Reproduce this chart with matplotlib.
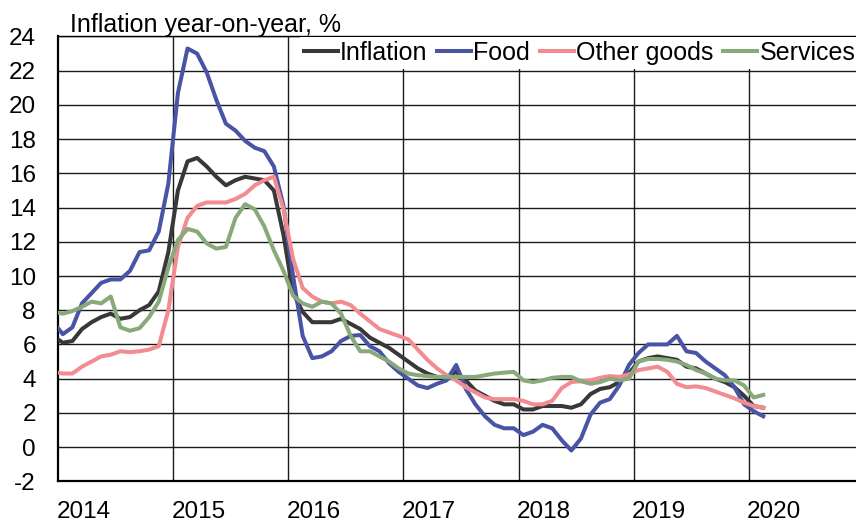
import matplotlib
matplotlib.use("Agg")
import matplotlib.pyplot as plt
import numpy as np

plt.rcParams['font.family'] = ['Liberation Sans', 'DejaVu Sans']

# Monthly data, Dec 2013 .. Feb 2020 (year-on-year, %)
start_year, start_month = 2013, 12
inflation = [6.5,
    6.1, 6.2, 6.9, 7.3, 7.6, 7.8, 7.5, 7.6, 8.0, 8.3, 9.1, 11.4,
    15.0, 16.7, 16.9, 16.4, 15.8, 15.3, 15.6, 15.8, 15.7, 15.6, 15.0, 12.4,
    9.0, 7.9, 7.3, 7.3, 7.3, 7.5, 7.2, 6.9, 6.4, 6.1, 5.8, 5.4,
    5.0, 4.6, 4.3, 4.1, 4.1, 4.4, 3.9, 3.3, 3.0, 2.7, 2.5, 2.5,
    2.2, 2.2, 2.4, 2.4, 2.4, 2.3, 2.5, 3.1, 3.4, 3.5, 3.8, 4.3,
    5.0, 5.2, 5.3, 5.2, 5.1, 4.7, 4.6, 4.3, 4.0, 3.8, 3.5, 3.0,
    2.4, 2.3]
food = [7.3,
    6.6, 7.0, 8.4, 9.0, 9.6, 9.8, 9.8, 10.3, 11.4, 11.5, 12.6, 15.4,
    20.7, 23.3, 23.0, 21.9, 20.3, 18.9, 18.5, 17.9, 17.5, 17.3, 16.4, 14.1,
    10.0, 6.5, 5.2, 5.3, 5.6, 6.2, 6.5, 6.55, 5.9, 5.6, 4.9, 4.4,
    4.0, 3.6, 3.45, 3.7, 3.9, 4.8, 3.4, 2.5, 1.8, 1.3, 1.1, 1.1,
    0.7, 0.9, 1.3, 1.1, 0.4, -0.2, 0.5, 1.9, 2.6, 2.8, 3.6, 4.8,
    5.5, 6.0, 6.0, 6.0, 6.5, 5.6, 5.5, 5.0, 4.6, 4.2, 3.5, 2.5,
    2.1, 1.8]
other_goods = [4.4,
    4.3, 4.3, 4.7, 5.0, 5.3, 5.4, 5.6, 5.55, 5.6, 5.7, 5.9, 8.0,
    11.7, 13.4, 14.1, 14.3, 14.3, 14.3, 14.5, 14.8, 15.3, 15.6, 15.8, 13.9,
    11.0, 9.3, 8.8, 8.5, 8.4, 8.5, 8.3, 7.8, 7.35, 6.9, 6.7, 6.5,
    6.3, 5.7, 5.1, 4.6, 4.2, 3.9, 3.5, 3.2, 2.9, 2.8, 2.8, 2.8,
    2.7, 2.5, 2.5, 2.7, 3.45, 3.8, 3.85, 3.9, 4.05, 4.15, 4.1, 4.25,
    4.5, 4.6, 4.7, 4.4, 3.7, 3.5, 3.55, 3.45, 3.25, 3.05, 2.85, 2.6,
    2.4, 2.3]
services = [7.9,
    7.8, 7.95, 8.2, 8.5, 8.4, 8.8, 7.0, 6.8, 6.95, 7.6, 8.5, 10.5,
    12.1, 12.75, 12.6, 11.9, 11.6, 11.7, 13.4, 14.2, 13.9, 12.9, 11.5, 10.3,
    8.85, 8.4, 8.2, 8.5, 8.4, 7.8, 6.5, 5.6, 5.6, 5.3, 5.0, 4.6,
    4.3, 4.2, 4.15, 4.1, 4.1, 4.1, 4.1, 4.1, 4.2, 4.3, 4.35, 4.4,
    3.9, 3.8, 3.9, 4.05, 4.1, 4.1, 3.85, 3.7, 3.8, 4.0, 3.9, 4.0,
    5.0, 5.15, 5.15, 5.1, 5.0, 4.8, 4.5, 4.3, 4.0, 3.9, 3.9, 3.6,
    2.9, 3.05]

series_names = ["Inflation", "Food", "Other goods", "Services"]
series_colors = ["#383838", "#4A54A6", "#F28C91", "#8AA97B"]
year_labels = ["2014", "2015", "2016", "2017", "2018", "2019", "2020"]
y_ticks = list(range(-2, 25, 2))
title = "Inflation year-on-year, %"

n = len(inflation)
t = np.array([start_year + (start_month - 1 + i + 0.5) / 12.0 for i in range(n)])

W, H = 856, 522
fig = plt.figure(figsize=(W / 100, H / 100), dpi=100)
ax = fig.add_axes([58 / W, (H - 481.3) / H, 806 / W, 444.8 / H])

lw = 2.9
for vals, name, col in zip([inflation, food, other_goods, services], series_names, series_colors):
    ax.plot(t, vals, color=col, lw=lw, label=name, solid_joinstyle='round', zorder=3)

ax.set_xlim(2014, 2021)
ax.set_ylim(-2, 24)

years = [int(y) for y in year_labels]
ax.set_xticks(years[1:])
ax.set_xticklabels([])
ax.set_xticks([y + 0.22 for y in years], minor=True)
ax.set_xticklabels(year_labels, minor=True)
ax.tick_params(axis='x', which='both', length=0)
ax.tick_params(axis='x', which='minor', labelsize=17.5, pad=14)

ax.set_yticks(y_ticks)
ax.set_yticklabels([str(v) for v in y_ticks])
ax.tick_params(axis='y', length=0, labelsize=17.5, pad=16)

ax.grid(True, which='major', color='#1a1a1a', lw=1.0, zorder=1)
ax.set_axisbelow(True)

ax.spines['right'].set_visible(False)
ax.spines['top'].set_linewidth(1.0)
ax.spines['left'].set_linewidth(1.6)
ax.spines['bottom'].set_linewidth(1.6)

fig.text(70 / W, 1 - 31.7 / H, title, fontsize=18, ha='left', va='baseline')

leg = fig.legend(loc='center left', bbox_to_anchor=(300 / W, 1 - 53 / H),
                 bbox_transform=fig.transFigure, ncol=4, frameon=True,
                 fontsize=18, handlelength=1.36, handletextpad=0.08,
                 columnspacing=0.4, borderpad=0.15, borderaxespad=0,
                 fancybox=False)
leg.get_frame().set_facecolor('white')
leg.get_frame().set_edgecolor('none')
leg.get_frame().set_alpha(1)

fig.savefig("out.png", dpi=100)
